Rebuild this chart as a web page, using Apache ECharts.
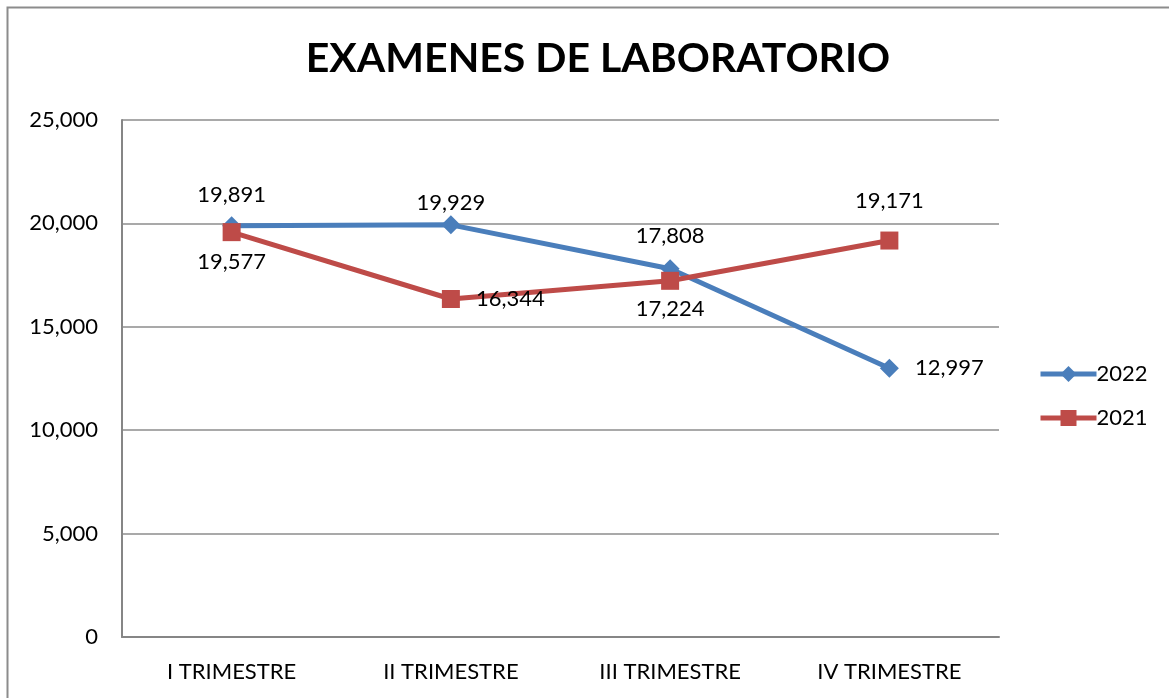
<!DOCTYPE html>
<html>
<head>
<meta charset="utf-8">
<script src="https://cdn.jsdelivr.net/npm/echarts@6/dist/echarts.min.js"></script>
<style>
  html, body { margin: 0; padding: 0; background: #fff; }
  #chart { width: 1169px; height: 698px; }
</style>
</head>
<body>
<div id="chart"></div>
<script>
const categories = ['I TRIMESTRE', 'II TRIMESTRE', 'III TRIMESTRE', 'IV TRIMESTRE'];
const values2022 = [19891, 19929, 17808, 12997];
const values2021 = [19577, 16344, 17224, 19171];
const pos2022 = ['top', 'top', 'top', 'right'];
const pos2021 = ['bottom', 'right', 'bottom', 'top'];
const dist2022 = [10, 1, 12, 16];
const dist2021 = [10, 16, 8, 20];

const FONT = 'Lato, "Open Sans", sans-serif';
const fmt = (v) => v.toLocaleString('en-US');

const chart = echarts.init(document.getElementById('chart'), null, { renderer: 'canvas' });

const mkData = (vals, pos, dist) => vals.map((v, i) => ({
  value: v,
  label: { position: pos[i], distance: dist[i] }
}));

chart.setOption({
  backgroundColor: '#fff',
  animation: false,
  title: {
    text: 'EXAMENES DE LABORATORIO',
    left: 593, top: 33, textAlign: 'center',
    textStyle: { fontFamily: FONT, fontSize: 41, fontWeight: 'bold', color: '#000' }
  },
  graphic: [{
    type: 'rect', shape: { x: 7.5, y: 7.5, width: 1200, height: 720 },
    style: { fill: 'none', stroke: '#8c8c8c', lineWidth: 2 }, silent: true, z: -1
  }],
  legend: {
    orient: 'vertical', left: 1033, top: 358, itemGap: 22,
    itemWidth: 56, itemHeight: 20,
    lineStyle: { width: 5 },
    textStyle: { fontFamily: FONT, fontSize: 22, color: '#000', padding: [0, 0, 0, -5] },
    data: ['2022', '2021']
  },
  grid: { left: 122, right: 170, top: 120, bottom: 61 },
  xAxis: {
    type: 'category', data: categories, boundaryGap: true,
    axisLine: { lineStyle: { color: '#868686', width: 2 } },
    axisTick: { show: false },
    axisLabel: { fontFamily: FONT, fontSize: 22, color: '#000', margin: 24 }
  },
  yAxis: {
    type: 'value', min: 0, max: 25000, interval: 5000,
    axisLine: { show: true, lineStyle: { color: '#868686', width: 2 } },
    axisTick: { show: false },
    splitLine: { lineStyle: { color: '#8c8c8c', width: 1.5 } },
    axisLabel: { fontFamily: FONT, fontSize: 22, color: '#000', margin: 24, formatter: fmt }
  },
  series: [
    {
      name: '2022', type: 'line', data: mkData(values2022, pos2022, dist2022),
      symbol: 'diamond', symbolSize: 19,
      lineStyle: { color: '#4a7ebb', width: 5 },
      itemStyle: { color: '#4a7ebb' },
      label: { show: true, fontFamily: FONT, fontSize: 22, color: '#000', formatter: (p) => fmt(p.value) },
      z: 3
    },
    {
      name: '2021', type: 'line', data: mkData(values2021, pos2021, dist2021),
      symbol: 'rect', symbolSize: 18,
      lineStyle: { color: '#be4b48', width: 5 },
      itemStyle: { color: '#be4b48' },
      label: { show: true, fontFamily: FONT, fontSize: 22, color: '#000', formatter: (p) => fmt(p.value) },
      z: 4
    }
  ]
});
window.addEventListener('resize', () => chart.resize());
</script>
</body>
</html>
